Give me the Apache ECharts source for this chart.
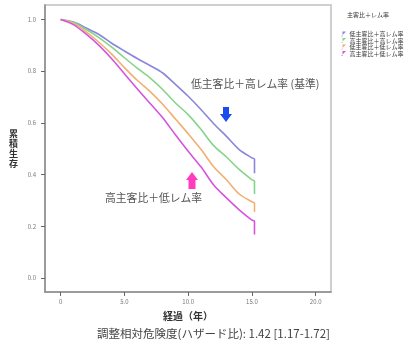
<!DOCTYPE html>
<html>
<head>
<meta charset="utf-8">
<script src="https://cdn.jsdelivr.net/npm/echarts@6/dist/echarts.min.js"></script>
<style>
  html, body { margin: 0; padding: 0; background: #fff; }
  #chart { width: 413px; height: 342px; }
</style>
</head>
<body>
<div id="chart"></div>
<script>
// 経過年数 (各群共通)
const years = [0, 1, 2, 3, 4, 5, 6, 7, 8, 9, 10, 11, 12, 13, 14, 15, 15.2, 15.2];

// 累積生存 (4群)
const lowRatioHighRem = [1.0, 0.99, 0.967, 0.942, 0.908, 0.878, 0.849, 0.822, 0.793, 0.749, 0.703, 0.652, 0.597, 0.548, 0.497, 0.465, 0.46, 0.405];
const highRatioHighRem = [1.0, 0.988, 0.961, 0.93, 0.893, 0.852, 0.812, 0.774, 0.729, 0.677, 0.632, 0.575, 0.512, 0.468, 0.42, 0.38, 0.375, 0.325];
const lowRatioLowRem = [1.0, 0.985, 0.952, 0.912, 0.866, 0.814, 0.765, 0.722, 0.672, 0.615, 0.558, 0.498, 0.43, 0.38, 0.325, 0.295, 0.29, 0.255];
const highRatioLowRem = [1.0, 0.98, 0.943, 0.9, 0.848, 0.79, 0.732, 0.676, 0.62, 0.554, 0.49, 0.43, 0.36, 0.31, 0.264, 0.224, 0.22, 0.168];

const seriesNames = ['低主客比＋高レム率', '高主客比＋高レム率', '低主客比＋低レム率', '高主客比＋低レム率'];
const seriesValues = [lowRatioHighRem, highRatioHighRem, lowRatioLowRem, highRatioLowRem];
const colors = ['#8a86dc', '#86d48a', '#f0b072', '#d455dc'];

// 目盛
const xTicks = [0, 5, 10, 15, 20];
const yTicks = [0, 0.2, 0.4, 0.6, 0.8, 1.0];

const chart = echarts.init(document.getElementById('chart'));

const font = '"Noto Sans CJK JP", "Noto Sans", sans-serif';

const option = {
  animation: false,
  textStyle: { fontFamily: font },
  grid: {
    left: 45,
    right: 82,
    top: 5,
    bottom: 50,
    show: true,
    borderColor: '#cfcfcf',
    borderWidth: 2,
  },
  legend: {
    orient: 'vertical',
    left: 336,
    top: 26,
    itemGap: 0.5,
    itemWidth: 8,
    itemHeight: 5,
    icon: 'path://M0,10 L3,10 L3,0 L10,0',
    textStyle: { fontSize: 6, color: '#333', padding: [0, 0, 0, -3] },
    data: seriesNames,
  },
  xAxis: {
    type: 'value',
    min: -1.23,
    max: 21.2,
    name: '経過（年）',
    nameLocation: 'middle',
    nameGap: 19,
    nameTextStyle: { fontSize: 10, fontWeight: 'bold', color: '#333' },
    axisLine: { onZero: false, lineStyle: { color: '#8a8a8a', width: 1.5 } },
    axisTick: { customValues: xTicks, length: 4, lineStyle: { color: '#666' } },
    axisLabel: {
      customValues: xTicks,
      fontSize: 6,
      color: '#777',
      margin: 7,
      formatter: (v) => (v === 0 ? '0' : v.toFixed(1)),
    },
    splitLine: { show: false },
  },
  yAxis: {
    type: 'value',
    min: -0.054,
    max: 1.056,
    name: '累\n積\n生\n存',
    nameLocation: 'middle',
    nameRotate: 0,
    nameGap: 27,
    nameTextStyle: { fontSize: 9, fontWeight: 'bold', color: '#333', lineHeight: 10 },
    axisLine: { onZero: false, lineStyle: { color: '#8a8a8a', width: 1.5 } },
    axisTick: { customValues: yTicks, length: 4, lineStyle: { color: '#666' } },
    axisLabel: {
      customValues: yTicks,
      fontSize: 6,
      color: '#777',
      margin: 9,
      formatter: (v) => v.toFixed(1),
    },
    splitLine: { show: false },
  },
  series: seriesNames.map((name, i) => ({
    name: name,
    type: 'line',
    data: years.map((yr, j) => [yr, seriesValues[i][j]]),
    showSymbol: false,
    smooth: 0.3,
    lineStyle: { color: colors[i], width: 1.6 },
    itemStyle: { color: colors[i] },
  })),
  graphic: [
    // 凡例タイトル
    { type: 'text', left: 347, top: 12, style: { text: '主客比＋レム率', fontSize: 6, fill: '#333', fontFamily: font } },
    // 注記
    { type: 'text', left: 191, top: 79, style: { text: '低主客比＋高レム率 (基準)', fontSize: 10.8, fill: '#555', fontFamily: font } },
    { type: 'text', left: 105, top: 193, style: { text: '高主客比＋低レム率', fontSize: 10.8, fill: '#555', fontFamily: font } },
    // 矢印
    {
      type: 'polygon',
      shape: { points: [[223, 107], [229, 107], [229, 114], [232, 114], [226, 122], [220, 114], [223, 114]] },
      style: { fill: '#1a4cf0' },
    },
    {
      type: 'polygon',
      shape: { points: [[188.5, 189], [195.5, 189], [195.5, 180], [198, 180], [192, 172], [186, 180], [188.5, 180]] },
      style: { fill: '#ff3cc0' },
    },
    // 下部注記
    {
      type: 'text',
      left: 97,
      top: 328,
      style: { text: '調整相対危険度(ハザード比): 1.42 [1.17-1.72]', fontSize: 11.5, fill: '#444', fontFamily: font },
    },
  ],
};

chart.setOption(option);
</script>
</body>
</html>
